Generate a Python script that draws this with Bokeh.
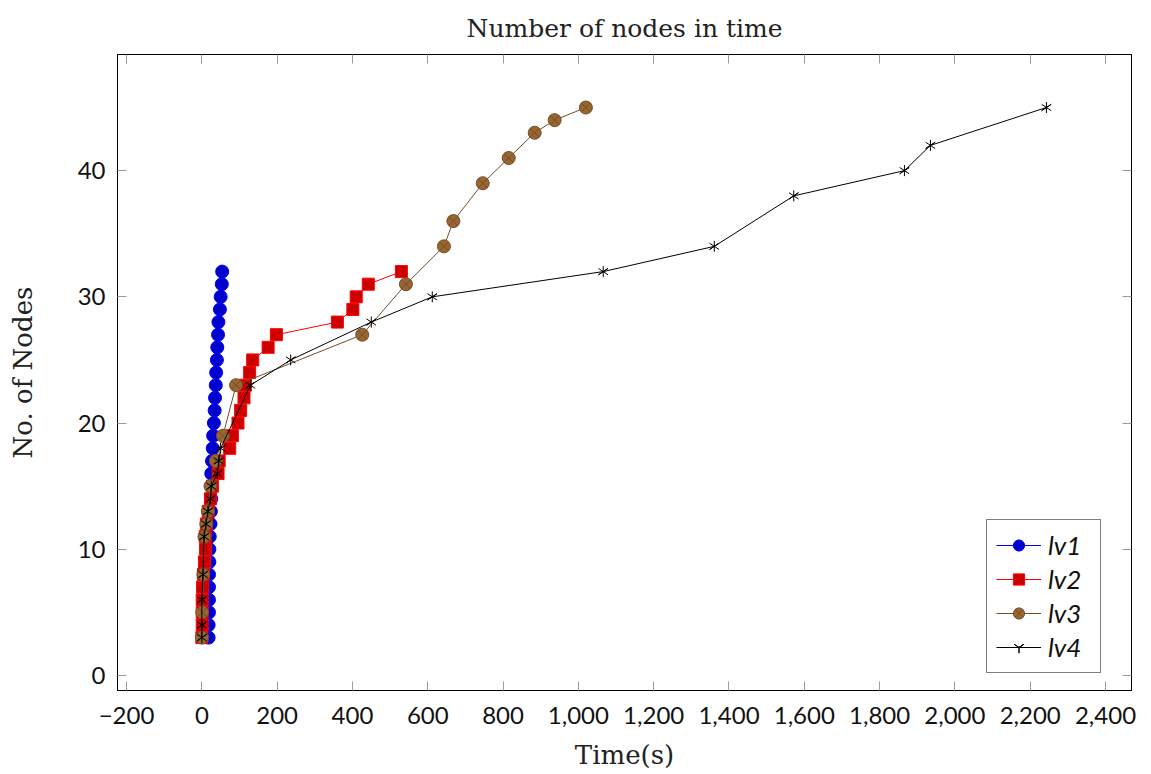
import numpy as np
from bokeh.plotting import figure
from bokeh.models import (LinearAxis, FixedTicker, Range1d, Legend, LegendItem)
from bokeh.embed import file_html
from bokeh.resources import INLINE

# ---- data ----
lv1_x = [18, 18, 19, 19, 19, 19, 20, 20, 21, 23, 24, 25, 25, 25, 27, 29, 30, 32, 34, 35,
         37, 38, 40, 41, 43, 44, 48, 50, 53, 54]
lv1_y = [3, 4, 5, 6, 7, 8, 9, 10, 11, 12, 13, 14, 15, 16, 17, 18, 19, 20, 21, 22,
         23, 24, 25, 26, 27, 28, 29, 30, 31, 32]

lv2_x = [0, 1, 1, 1, 2, 4, 7, 10, 9, 12, 17, 23, 28, 43, 46, 74, 81, 96, 103, 112,
         116, 127, 135, 176, 198, 360, 401, 410, 442, 530]
lv2_y = [3, 4, 5, 6, 7, 8, 9, 10, 11, 12, 13, 14, 15, 16, 17, 18, 19, 20, 21, 22,
         23, 24, 25, 26, 27, 28, 29, 30, 31, 32]

lv3_x = [0.5, 1, 4, 7, 12, 16, 23, 37, 56, 91, 426, 542, 643, 668, 746, 815, 884, 937, 1020]
lv3_y = [3, 5, 8, 11, 12, 13, 15, 17, 19, 23, 27, 31, 34, 36, 39, 41, 43, 44, 45]

lv4_x = [0, 0, 0, 3, 6, 11, 16, 23, 25, 41, 45, 50, 129, 236, 450, 612, 1066, 1361,
         1572, 1866, 1935, 2243]
lv4_y = [3, 4, 6, 8, 11, 12, 13, 14, 15, 16, 17, 18, 23, 25, 28, 30, 32, 34, 38, 40, 42, 45]

x_ticks = [-200, 0, 200, 400, 600, 800, 1000, 1200, 1400, 1600, 1800, 2000, 2200, 2400]
x_tick_labels = ["\u2212200", "0", "200", "400", "600", "800", "1,000", "1,200", "1,400",
                 "1,600", "1,800", "2,000", "2,200", "2,400"]
y_ticks = [0, 10, 20, 30, 40]

TITLE = "Number of nodes in time"
XLABEL = "Time(s)"
YLABEL = "No. of Nodes"

SERIF = "DejaVu Serif"
SANS = "Lato"

p = figure(width=1148, height=772, output_backend="svg", toolbar_location=None,
           x_range=Range1d(-224, 2469), y_range=Range1d(-1.19, 49.2),
           min_border_left=117, min_border_right=17, min_border_top=54,
           min_border_bottom=81, title=TITLE)

p.title.align = "center"
p.title.text_font = SERIF
p.title.text_font_size = "25px"
p.title.text_font_style = "normal"
p.title.text_color = "#222222"
p.title.standoff = 23

p.xgrid.visible = False
p.ygrid.visible = False
p.outline_line_color = "black"
p.outline_line_width = 1
p.background_fill_color = "white"
p.border_fill_color = "white"

def style_axis(ax, ticks, labels=True):
    ax.ticker = FixedTicker(ticks=ticks)
    ax.major_tick_in = 9
    ax.major_tick_out = 0
    ax.minor_tick_line_color = None
    ax.major_tick_line_color = "#999999"
    ax.axis_line_color = "black"
    if labels:
        ax.major_label_text_font = SANS
        ax.major_label_text_font_size = "24px"
        ax.major_label_text_color = "#111111"
    else:
        ax.major_label_text_font_size = "0px"
        ax.major_label_text_color = None
        ax.major_label_standoff = 0
        ax.axis_label_standoff = 0

xa = p.xaxis[0]
style_axis(xa, x_ticks)
xa.major_label_overrides = {t: l for t, l in zip(x_ticks, x_tick_labels)}
xa.major_label_standoff = 16
xa.axis_label = XLABEL
xa.axis_label_text_font = SERIF
xa.axis_label_text_font_size = "26px"
xa.axis_label_text_font_style = "normal"
xa.axis_label_standoff = 13
xa.axis_label_text_color = "#222222"

ya = p.yaxis[0]
style_axis(ya, y_ticks)
ya.major_label_standoff = 12
ya.axis_label = YLABEL
ya.axis_label_text_font = SERIF
ya.axis_label_text_font_size = "26px"
ya.axis_label_text_font_style = "normal"
ya.axis_label_standoff = 37
ya.axis_label_text_color = "#222222"

ra = LinearAxis()
style_axis(ra, y_ticks, labels=False)
p.add_layout(ra, "right")
ta = LinearAxis()
style_axis(ta, x_ticks, labels=False)
p.add_layout(ta, "above")

# ---- series ----
l1 = p.line(lv1_x, lv1_y, line_color="#0000ff", line_width=1)
m1 = p.scatter(lv1_x, lv1_y, marker="circle", size=13, fill_color="#0000cc",
               line_color="#0000ff", line_width=1)

l2 = p.line(lv2_x, lv2_y, line_color="#ff0000", line_width=1)
m2 = p.scatter(lv2_x, lv2_y, marker="square", size=12, fill_color="#cc0000",
               line_color="#ff0000", line_width=1)

l3 = p.line(lv3_x, lv3_y, line_color="#734d26", line_width=1)
m3 = p.scatter(lv3_x, lv3_y, marker="circle_x", size=13, fill_color="#996633",
               line_color="#734d26", line_width=1)

l4 = p.line(lv4_x, lv4_y, line_color="black", line_width=1)
m4a = p.scatter(lv4_x, lv4_y, marker="y", size=11, line_color="black", line_width=1)
m4b = p.scatter(lv4_x, lv4_y, marker="y", size=11, angle=np.pi, line_color="black",
                line_width=1)

legend = Legend(items=[
    LegendItem(label="lv1", renderers=[l1, m1]),
    LegendItem(label="lv2", renderers=[l2, m2]),
    LegendItem(label="lv3", renderers=[l3, m3]),
    LegendItem(label="lv4", renderers=[l4, m4a, m4b]),
], location=(869, 17))
legend.margin = 0
legend.padding = 9
legend.spacing = 2
legend.glyph_width = 45
legend.glyph_height = 28
legend.label_height = 28
legend.label_width = 43
legend.label_standoff = 7
legend.label_text_font = SANS
legend.label_text_font_size = "26px"
legend.label_text_font_style = "italic"
legend.label_text_color = "#111111"
legend.label_text_line_height = 1.0
legend.border_line_color = "black"
legend.border_line_width = 1
legend.background_fill_alpha = 1
p.add_layout(legend, "center")

open("out.html", "w").write(file_html(p, INLINE))
